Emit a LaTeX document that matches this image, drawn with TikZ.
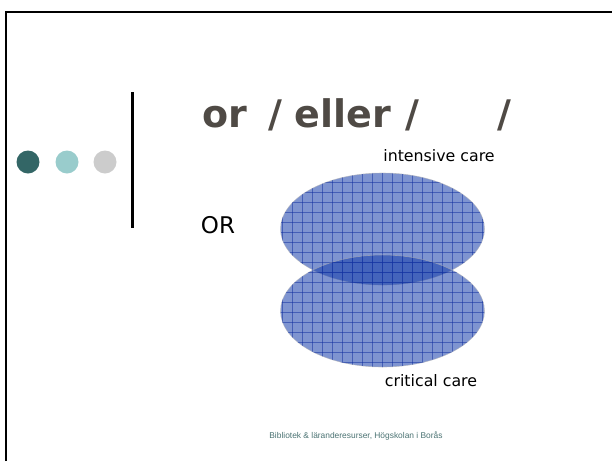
\documentclass[tikz,border=0pt]{standalone}
\usepackage{fontspec}
\setmainfont{DejaVu Sans}
\newfontfamily\footfont{Liberation Sans}
\usetikzlibrary{positioning}

\definecolor{titlegray}{HTML}{4F4A45}
\definecolor{dotdark}{HTML}{336666}
\definecolor{dotlight}{HTML}{99CCCC}
\definecolor{dotgray}{HTML}{CCCCCC}
\definecolor{setblue}{RGB}{20,60,170}
\definecolor{gridblue}{RGB}{20,50,160}
\definecolor{foottext}{HTML}{4A7272}

\tikzset{
  dot/.style={circle,fill=#1,minimum size=23pt,inner sep=0pt},
  setfill/.style={fill=setblue,fill opacity=0.55,draw=gray!60,draw opacity=0.6,line width=0.6pt},
  gridline/.style={draw=gridblue,line width=0.7pt,opacity=0.55},
  lbl/.style={inner sep=0pt,font=\fontsize{15.8}{18}\selectfont}
}

\begin{document}
\begin{tikzpicture}[x=1pt,y=-1pt]
        \useasboundingbox (0,0) rectangle (612,461);
        % frame and bar
        \draw[line width=2.6pt](6,461)--(6,12)--(612,12);
        \draw[line width=3pt](132,92)--(132,228);

        \node[dot=dotdark] (d1) at (28,162) {};
        \node[dot=dotlight] (d2) at (67,162) {};
        \node[dot=dotgray] (d3) at (105,162) {};

        \node[inner sep=0pt,anchor=base west,text=titlegray,font=\bfseries\fontsize{38}{44}\selectfont] (title) at (202,127) {or\hspace{21pt}/\hspace{13pt}eller\hspace{14pt}/\hspace{78pt}/};

        % the two sets
        \foreach \cy in {229,311}{
          \path[setfill] (382.5,\cy) ellipse [x radius=102,y radius=56];
          \begin{scope}
            \clip (382.5,\cy) ellipse [x radius=102,y radius=56];
            \foreach \gx in {282,292,...,482} \draw[gridline] (\gx,160)--(\gx,380);
            \foreach \gy in {172,182,...,372} \draw[gridline] (270,\gy)--(495,\gy);
          \end{scope}
        }

        \node[lbl] (intensive) at (439,156) {intensive care};
        \node[lbl] (critical) at (431,381) {critical care};
        \node[inner sep=0pt,font=\fontsize{23}{26}\selectfont] (orlabel) at (218,225) {OR};
        \node[inner sep=0pt,text=foottext,font=\footfont\fontsize{8.4}{10}\selectfont] (footer) at (356,436) {Bibliotek \& läranderesurser, Högskolan i Borås};
\end{tikzpicture}
\end{document}
